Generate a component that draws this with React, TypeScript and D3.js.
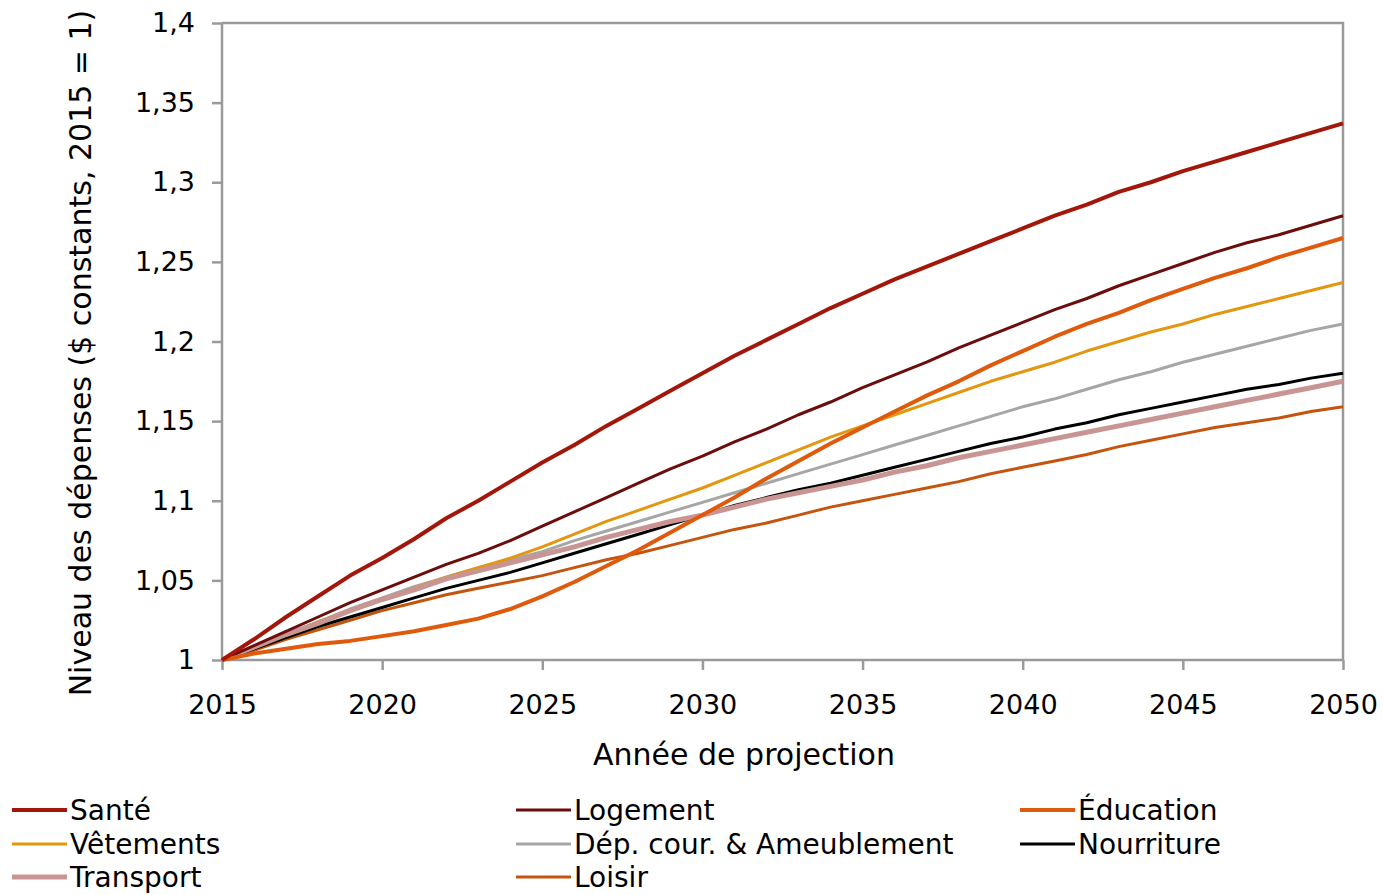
import React, { useRef, useEffect } from 'react';
import { select, scaleLinear, line, axisLeft, axisBottom } from 'd3';

const years = Array.from({ length: 36 }, (_, i) => 2015 + i);

const sante = [1.0, 1.013, 1.027, 1.04, 1.053, 1.064, 1.076, 1.089, 1.1, 1.112, 1.124, 1.135, 1.147, 1.158, 1.169, 1.18, 1.191, 1.201, 1.211, 1.221, 1.23, 1.239, 1.247, 1.255, 1.263, 1.271, 1.279, 1.286, 1.294, 1.3, 1.307, 1.313, 1.319, 1.325, 1.331, 1.337];
const logement = [1.0, 1.009, 1.018, 1.027, 1.036, 1.044, 1.052, 1.06, 1.067, 1.075, 1.084, 1.093, 1.102, 1.111, 1.12, 1.128, 1.137, 1.145, 1.154, 1.162, 1.171, 1.179, 1.187, 1.196, 1.204, 1.212, 1.22, 1.227, 1.235, 1.242, 1.249, 1.256, 1.262, 1.267, 1.273, 1.279];
const education = [1.0, 1.004, 1.007, 1.01, 1.012, 1.015, 1.018, 1.022, 1.026, 1.032, 1.04, 1.049, 1.059, 1.069, 1.08, 1.091, 1.102, 1.114, 1.125, 1.136, 1.146, 1.156, 1.166, 1.175, 1.185, 1.194, 1.203, 1.211, 1.218, 1.226, 1.233, 1.24, 1.246, 1.253, 1.259, 1.265];
const vetements = [1.0, 1.008, 1.016, 1.024, 1.031, 1.038, 1.045, 1.052, 1.058, 1.064, 1.071, 1.079, 1.087, 1.094, 1.101, 1.108, 1.116, 1.124, 1.132, 1.14, 1.147, 1.154, 1.161, 1.168, 1.175, 1.181, 1.187, 1.194, 1.2, 1.206, 1.211, 1.217, 1.222, 1.227, 1.232, 1.237];
const depCour = [1.0, 1.008, 1.016, 1.024, 1.032, 1.039, 1.046, 1.052, 1.058, 1.063, 1.068, 1.075, 1.081, 1.087, 1.093, 1.099, 1.105, 1.111, 1.117, 1.123, 1.129, 1.135, 1.141, 1.147, 1.153, 1.159, 1.164, 1.17, 1.176, 1.181, 1.187, 1.192, 1.197, 1.202, 1.207, 1.211];
const nourriture = [1.0, 1.007, 1.014, 1.021, 1.027, 1.033, 1.039, 1.045, 1.05, 1.055, 1.061, 1.067, 1.073, 1.079, 1.085, 1.091, 1.097, 1.102, 1.107, 1.111, 1.116, 1.121, 1.126, 1.131, 1.136, 1.14, 1.145, 1.149, 1.154, 1.158, 1.162, 1.166, 1.17, 1.173, 1.177, 1.18];
const transport = [1.0, 1.008, 1.016, 1.023, 1.031, 1.038, 1.044, 1.051, 1.056, 1.061, 1.066, 1.071, 1.077, 1.082, 1.087, 1.091, 1.096, 1.101, 1.105, 1.109, 1.113, 1.118, 1.122, 1.127, 1.131, 1.135, 1.139, 1.143, 1.147, 1.151, 1.155, 1.159, 1.163, 1.167, 1.171, 1.175];
const loisir = [1.0, 1.006, 1.013, 1.019, 1.025, 1.031, 1.036, 1.041, 1.045, 1.049, 1.053, 1.058, 1.063, 1.067, 1.072, 1.077, 1.082, 1.086, 1.091, 1.096, 1.1, 1.104, 1.108, 1.112, 1.117, 1.121, 1.125, 1.129, 1.134, 1.138, 1.142, 1.146, 1.149, 1.152, 1.156, 1.159];

const yTicks = [1, 1.05, 1.1, 1.15, 1.2, 1.25, 1.3, 1.35, 1.4];
const xTicks = [2015, 2020, 2025, 2030, 2035, 2040, 2045, 2050];

// legend order
const series = [
  { name: 'Santé', values: sante, color: '#a3170a', width: 4 },
  { name: 'Logement', values: logement, color: '#6b0d0b', width: 3 },
  { name: 'Éducation', values: education, color: '#e05a0c', width: 4 },
  { name: 'Vêtements', values: vetements, color: '#e3960e', width: 3 },
  { name: 'Dép. cour. & Ameublement', values: depCour, color: '#a6a6a6', width: 3 },
  { name: 'Nourriture', values: nourriture, color: '#000000', width: 3 },
  { name: 'Transport', values: transport, color: '#c99593', width: 5 },
  { name: 'Loisir', values: loisir, color: '#c4540e', width: 3 },
];
// back to front
const drawOrder = [7, 5, 4, 3, 6, 1, 2, 0];

const dim = {
  width: 1383,
  height: 895,
  left: 222,
  right: 1343,
  top: 23,
  bottom: 660,
};
const font = '"DejaVu Sans", sans-serif';
const axisColor = '#9a9a9a';

const App = () => {
  const svgRef = useRef(null);

  useEffect(() => {
    const svg = select(svgRef.current);
    svg.selectAll('*').remove();

    const x = scaleLinear().domain([2015, 2050]).range([dim.left, dim.right]);
    const y = scaleLinear().domain([1, 1.4]).range([dim.bottom, dim.top]);

    // frame (top and right)
    svg
      .append('path')
      .attr('d', `M${dim.left},${dim.top}H${dim.right}V${dim.bottom}`)
      .attr('fill', 'none')
      .attr('stroke', axisColor)
      .attr('stroke-width', 2.5);

    const fmt = (d: number) => String(+d.toFixed(2)).replace('.', ',');

    const yAxis = svg
      .append('g')
      .attr('transform', `translate(${dim.left},0)`)
      .call(axisLeft(y).tickValues(yTicks).tickFormat(fmt as any).tickSize(10).tickPadding(17));
    const xAxis = svg
      .append('g')
      .attr('transform', `translate(0,${dim.bottom})`)
      .call(axisBottom(x).tickValues(xTicks).tickFormat((d: any) => String(d)).tickSize(10).tickPadding(25));

    [yAxis, xAxis].forEach((g) => {
      g.select('.domain').attr('stroke', axisColor).attr('stroke-width', 2.5);
      g.selectAll('.tick line').attr('stroke', axisColor).attr('stroke-width', 2.5);
      g.selectAll('.tick text')
        .attr('fill', '#000')
        .style('font-family', font)
        .style('font-size', '27px');
    });
    xAxis.select('.domain').attr('d', `M${dim.left},0H${dim.right}`);
    yAxis.select('.domain').attr('d', `M0,${dim.top}V${dim.bottom}`);

    const lineGen = line<number>()
      .x((_, i) => x(years[i]))
      .y((d) => y(d));

    svg
      .append('g')
      .selectAll('path')
      .data(drawOrder.map((i) => series[i]))
      .join('path')
      .attr('d', (s) => lineGen(s.values))
      .attr('fill', 'none')
      .attr('stroke', (s) => s.color)
      .attr('stroke-width', (s) => s.width)
      .attr('stroke-linejoin', 'round');

    // axis titles
    svg
      .append('text')
      .attr('x', 744)
      .attr('y', 765)
      .attr('text-anchor', 'middle')
      .style('font-family', font)
      .style('font-size', '30px')
      .text('Année de projection');
    svg
      .append('text')
      .attr('transform', `translate(91,353) rotate(-90)`)
      .attr('text-anchor', 'middle')
      .style('font-family', font)
      .style('font-size', '30px')
      .text('Niveau des dépenses ($ constants, 2015 = 1)');

    // legend
    const colX = [12, 516, 1020];
    const rowY = [810, 844, 877];
    const legend = svg
      .append('g')
      .selectAll('g')
      .data(series)
      .join('g')
      .attr('transform', (_, i) => `translate(${colX[i % 3]},${rowY[Math.floor(i / 3)]})`);
    legend
      .append('line')
      .attr('x1', 0)
      .attr('x2', 55)
      .attr('stroke', (s) => s.color)
      .attr('stroke-width', (s) => s.width);
    legend
      .append('text')
      .attr('x', 58)
      .attr('dy', '0.35em')
      .style('font-family', font)
      .style('font-size', '28px')
      .text((s) => s.name);
  }, []);

  return (
    <svg
      ref={svgRef}
      width={dim.width}
      height={dim.height}
      style={{ position: 'absolute', left: 0, top: 0, background: '#fff' }}
    ></svg>
  );
};

export default App;
